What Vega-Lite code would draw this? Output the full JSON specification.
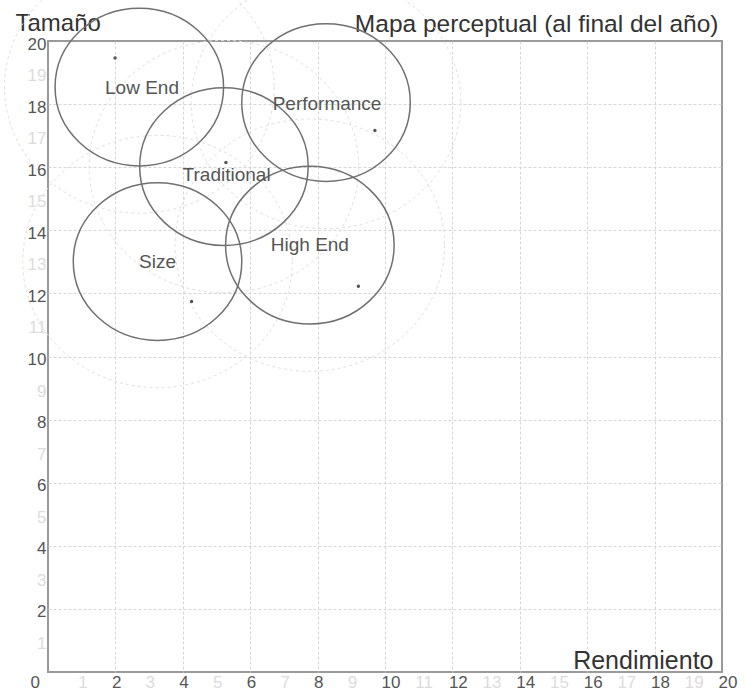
{
  "$schema": "https://vega.github.io/schema/vega-lite/v6.json",
  "width": 674,
  "height": 631,
  "autosize": "none",
  "padding": {"left": 48, "top": 41, "right": 24, "bottom": 24},
  "background": "white",
  "config": {
    "font": "Liberation Sans",
    "view": {"stroke": "#9a9a9a", "strokeWidth": 2}
  },
  "data": {
    "values": [
      {"segment": "Low End", "cx": 2.71, "cy": 18.54, "px": 1.99, "py": 19.46, "lx": 2.79, "ly": 18.5},
      {"segment": "Performance", "cx": 8.25, "cy": 18.05, "px": 9.7, "py": 17.16, "lx": 8.28, "ly": 18.0},
      {"segment": "Traditional", "cx": 5.22, "cy": 16.02, "px": 5.28, "py": 16.15, "lx": 5.3, "ly": 15.75},
      {"segment": "Size", "cx": 3.25, "cy": 13.01, "px": 4.26, "py": 11.74, "lx": 3.25, "ly": 13.0},
      {"segment": "High End", "cx": 7.77, "cy": 13.53, "px": 9.21, "py": 12.23, "lx": 7.77, "ly": 13.53}
    ]
  },
  "resolve": {"axis": {"x": "independent", "y": "independent"}},
  "layer": [
    {
      "mark": {
        "type": "point",
        "shape": "M1,0C1,0.517,0.552,0.936,0,0.936C-0.552,0.936,-1,0.517,-1,0C-1,-0.517,-0.552,-0.936,0,-0.936C0.552,-0.936,1,-0.517,1,0Z",
        "size": 72684,
        "filled": false,
        "stroke": "#e0e0e0",
        "strokeWidth": 1,
        "strokeDash": [3, 3],
        "opacity": 1
      },
      "encoding": {
        "x": {
          "field": "cx",
          "type": "quantitative",
          "scale": {"domain": [0, 20], "nice": false, "zero": false},
          "axis": {
            "orient": "bottom",
            "values": [0,1,2,3,4,5,6,7,8,9,10,11,12,13,14,15,16,17,18,19,20],
            "domain": false,
            "ticks": false,
            "labelOverlap": false,
            "labelFlush": false,
            "labelBound": false,
            "labelFontSize": 17,
            "labelPadding": 2,
            "labelAlign": "left",
            "labelOffset": {"condition": {"test": "datum.value == 0", "value": -18}, "value": -4},
            "labelColor": {"condition": {"test": "datum.value % 2 == 1", "value": "#dcdcdc"}, "value": "#555555"},
            "grid": true,
            "gridColor": "#d6d6d6",
            "gridDash": [3, 2],
            "gridWidth": 1,
            "gridOpacity": {"condition": {"test": "datum.value % 2 == 1 || datum.value == 0 || datum.value == 20", "value": 0}, "value": 1},
            "title": "Rendimiento",
            "titleFontSize": 25,
            "titleFontWeight": "normal",
            "titleColor": "#333333",
            "titleAlign": "right",
            "titleBaseline": "alphabetic",
            "titleX": 665,
            "titleY": -4
          }
        },
        "y": {
          "field": "cy",
          "type": "quantitative",
          "scale": {"domain": [0, 20], "nice": false, "zero": false},
          "axis": {
            "orient": "left",
            "values": [0,1,2,3,4,5,6,7,8,9,10,11,12,13,14,15,16,17,18,19,20],
            "domain": false,
            "ticks": false,
            "labelOverlap": false,
            "labelFlush": false,
            "labelBound": false,
            "labelFontSize": 17,
            "labelPadding": 2,
            "labelOffset": 3,
            "labelExpr": "datum.value == 0 ? '' : datum.label",
            "labelColor": {"condition": {"test": "datum.value % 2 == 1", "value": "#dcdcdc"}, "value": "#555555"},
            "grid": true,
            "gridColor": "#d6d6d6",
            "gridDash": [3, 2],
            "gridWidth": 1,
            "gridOpacity": {"condition": {"test": "datum.value % 2 == 1 || datum.value == 0 || datum.value == 20", "value": 0}, "value": 1},
            "title": "Tamaño",
            "titleAngle": 0,
            "titleFontSize": 24,
            "titleFontWeight": "normal",
            "titleColor": "#333333",
            "titleAlign": "left",
            "titleBaseline": "alphabetic",
            "titleX": -33,
            "titleY": -11
          }
        }
      }
    },
    {
      "mark": {
        "type": "point",
        "shape": "M1,0C1,0.517,0.552,0.936,0,0.936C-0.552,0.936,-1,0.517,-1,0C-1,-0.517,-0.552,-0.936,0,-0.936C0.552,-0.936,1,-0.517,1,0Z",
        "size": 28392,
        "filled": false,
        "stroke": "#707070",
        "strokeWidth": 1.5,
        "opacity": 1
      },
      "encoding": {
        "x": {"field": "cx", "type": "quantitative", "axis": null},
        "y": {"field": "cy", "type": "quantitative", "axis": null}
      }
    },
    {
      "mark": {"type": "point", "shape": "circle", "filled": true, "size": 12, "color": "#555555", "opacity": 1},
      "encoding": {
        "x": {"field": "px", "type": "quantitative", "axis": null},
        "y": {"field": "py", "type": "quantitative", "axis": null}
      }
    },
    {
      "mark": {"type": "text", "fontSize": 19, "color": "#555555", "align": "center", "baseline": "middle"},
      "encoding": {
        "x": {
          "field": "lx",
          "type": "quantitative",
          "axis": {
            "orient": "top",
            "values": [],
            "labels": false,
            "ticks": false,
            "domain": false,
            "grid": false,
            "title": "Mapa perceptual (al final del año)",
            "titleFontSize": 24.5,
            "titleFontWeight": "normal",
            "titleColor": "#333333",
            "titleAlign": "right",
            "titleBaseline": "alphabetic",
            "titleX": 670,
            "titleY": -10
          }
        },
        "y": {"field": "ly", "type": "quantitative", "axis": null},
        "text": {"field": "segment"}
      }
    }
  ]
}
